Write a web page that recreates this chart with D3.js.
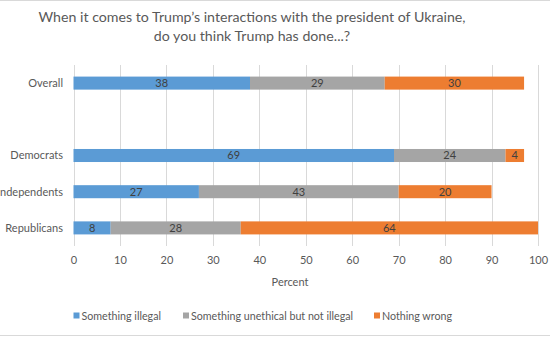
<!DOCTYPE html>
<html>
<head>
<meta charset="utf-8">
<script src="https://cdn.jsdelivr.net/npm/d3@7"></script>
<style>
  html, body { margin: 0; padding: 0; background: #fff; }
  svg { display: block; font-family: Lato, "Open Sans", "DejaVu Sans", sans-serif; }
</style>
</head>
<body>
<svg id="chart" width="550" height="340"></svg>
<script>
// Survey groups (an empty slot separates the overall row from the party rows)
const categories = ["Overall", "", "Democrats", "Independents", "Republicans"];
const seriesNames = ["Something illegal", "Something unethical but not illegal", "Nothing wrong"];
const illegal   = [38, null, 69, 27, 8];
const unethical = [29, null, 24, 43, 28];
const nothing   = [30, null, 4, 20, 64];
const xTicks = [0, 10, 20, 30, 40, 50, 60, 70, 80, 90, 100];
const colors = ["#5B9BD5", "#A5A5A5", "#ED7D31"];

const svg = d3.select("#chart");
const W = 550, H = 340;
const margin = { left: 73.5, right: 12, top: 65, bottom: 94 };
const x = d3.scaleLinear().domain([0, 100]).range([margin.left, 538]);
const y = d3.scaleBand().domain(categories.map((c, i) => i)).range([margin.top, 246]).paddingInner(0.64).paddingOuter(0.32);

// chart frame lines
svg.append("line").attr("x1", 0).attr("x2", W).attr("y1", 0.5).attr("y2", 0.5).attr("stroke", "#D9D9D9");
svg.append("line").attr("x1", 0).attr("x2", W).attr("y1", 335.5).attr("y2", 335.5).attr("stroke", "#D9D9D9");

// title
const title = svg.append("text").attr("text-anchor", "middle").attr("fill", "#595959").attr("font-size", 14.2);
title.append("tspan").attr("x", 252).attr("y", 22).text("When it comes to Trump\u2019s interactions with the president of Ukraine,");
title.append("tspan").attr("x", 252).attr("y", 41).text("do you think Trump has done...?");

// vertical gridlines
svg.append("g").selectAll("line").data(xTicks).join("line")
  .attr("x1", d => Math.round(x(d)) + 0.5).attr("x2", d => Math.round(x(d)) + 0.5)
  .attr("y1", 65).attr("y2", 246)
  .attr("stroke", "#D9D9D9").attr("stroke-width", 1);

// x axis tick labels
const xAxis = d3.axisBottom(x).tickValues(xTicks).tickSize(0).tickPadding(0);
const gx = svg.append("g").attr("transform", "translate(0,264)").call(xAxis);
gx.select(".domain").remove();
gx.selectAll("text").attr("fill", "#595959").attr("font-size", 11).attr("font-family", "Lato, Open Sans, sans-serif").attr("dy", 0);

svg.append("text").attr("x", 290).attr("y", 286).attr("text-anchor", "middle")
  .attr("fill", "#595959").attr("font-size", 11).text("Percent");

// y category labels
svg.append("g").selectAll("text").data(categories).join("text")
  .attr("x", 63).attr("y", (d, i) => y(i) + y.bandwidth() / 2)
  .attr("dy", "0.35em").attr("text-anchor", "end")
  .attr("fill", "#595959").attr("font-size", 11).text(d => d);

// stacked bars
const rows = categories.map((c, i) => ({ i, vals: [illegal[i], unethical[i], nothing[i]] }))
  .filter(r => r.vals[0] != null);
const segs = [];
rows.forEach(r => {
  let acc = 0;
  r.vals.forEach((v, k) => { segs.push({ i: r.i, k, v, x0: acc, x1: acc + v }); acc += v; });
});
svg.append("g").selectAll("rect").data(segs).join("rect")
  .attr("x", d => x(d.x0)).attr("width", d => x(d.x1) - x(d.x0))
  .attr("y", d => y(d.i)).attr("height", y.bandwidth())
  .attr("fill", d => colors[d.k]);
svg.append("g").selectAll("text").data(segs).join("text")
  .attr("x", d => (x(d.x0) + x(d.x1)) / 2).attr("y", d => y(d.i) + y.bandwidth() / 2)
  .attr("dy", "0.35em").attr("text-anchor", "middle")
  .attr("fill", "#404040").attr("font-size", 11).text(d => d.v);

// legend
const legendX = [73.5, 183, 374];
const lg = svg.append("g").selectAll("g").data(seriesNames).join("g")
  .attr("transform", (d, i) => `translate(${legendX[i]},316)`);
lg.append("rect").attr("x", 0).attr("y", -3.5).attr("width", 6).attr("height", 6).attr("fill", (d, i) => colors[i]);
lg.append("text").attr("x", 8).attr("y", 0).attr("dy", "0.35em")
  .attr("fill", "#595959").attr("font-size", 10.7).text(d => d);
</script>
</body>
</html>
